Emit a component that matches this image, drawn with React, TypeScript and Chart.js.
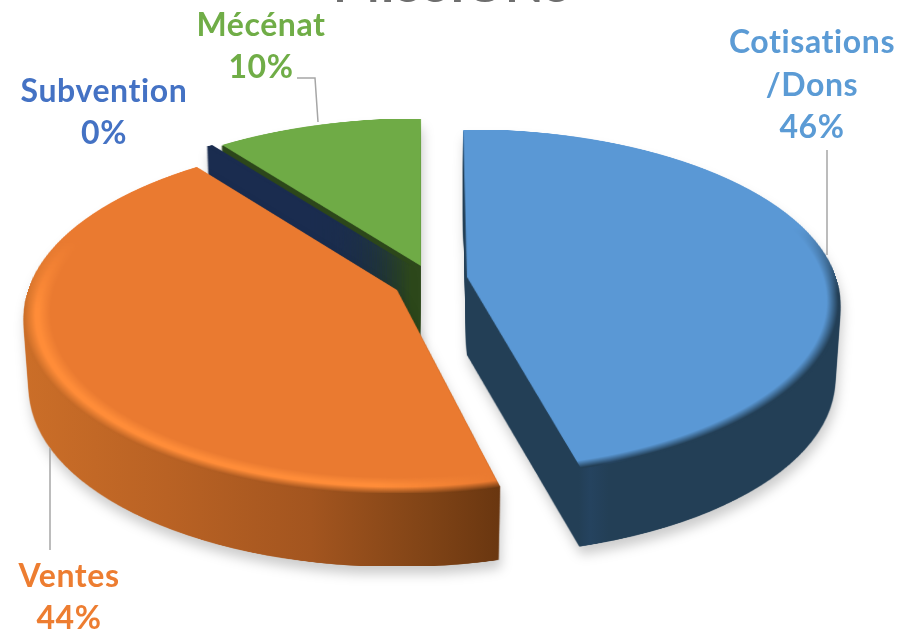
import React, { useEffect, useRef } from "react";
import { Chart, registerables } from "chart.js";

Chart.register(...registerables);

const WIDTH = 901;
const HEIGHT = 629;

const TITLE = "MISSIONS";
const CATEGORIES = ["Cotisations\n/Dons", "Ventes", "Subvention", "Mécénat"];
const VALUES = [46.3, 43.8, 0.3, 10.4];
const PERCENT_LABELS = ["46%", "44%", "0%", "10%"];
const FACE_COLORS = ["#5A98D5", "#EA7A30", "#1A2C4F", "#6FAB46"];
const LABEL_COLORS = ["#5B9BD5", "#ED7D31", "#4472C4", "#70AD47"];
const WALL_STOPS = [
  [[0, "#233F56"], [0.3, "#233F56"], [0.33, "#25435F"], [0.38, "#233F56"], [1, "#233F56"]],
  [[0, "#CB6E28"], [0.3, "#B96224"], [0.6, "#A3551F"], [0.85, "#7F4316"], [1, "#693610"]],
  [[0, "#1A2C4F"], [1, "#1A2C4F"]],
  [[0, "#2D481B"], [1, "#2D481B"]],
];
const WALL_SPANS = [
  [467, 840],
  [24, 502],
  [0, 901],
  [0, 901],
];
// Soft bands near the front edge of a top face, as radius fractions of the pie.
const EDGE_BAND = [[0.965, 0.995], [0.97, 1], null, null];
const HIGHLIGHT_BAND = [null, [0.93, 0.96], null, null];
const HIGHLIGHT_COLOR = "#FF8C38";

// Projection of the pie plane onto the picture (tilted disc in perspective).
const PERSPECTIVE = 0.15;
const PLANE_Y = [170, 173.4, 170, 170];
const PLANE_X = 369;
const WALL_DEPTH = [78, 73, 78, 78];
const WALL_SHRINK = 0.015;
const WALL_NUDGE_X = [0, 0, 0, -1];
const APEXES = [
  [467, 277],
  [397, 290],
  [411, 266],
  [421, 266],
];
const SLICE_TURN_DEG = [-0.7, 0.8, 0, 0];
const DRAW_ORDER = [3, 2, 1, 0];

const LABEL_BOXES = [
  { x: 812, y: 43 },
  { x: 69, y: 577 },
  { x: 104, y: 92 },
  { x: 261, y: 26 },
];
const LEADERS = [
  [[827, 150], [827, 255]],
  [[50, 448], [50, 550]],
  [],
  [[297, 78], [315, 78], [318, 122]],
];

function layer() {
  const c = document.createElement("canvas");
  c.width = WIDTH;
  c.height = HEIGHT;
  return c;
}

function project(src: HTMLCanvasElement, R: number, ax: number, ay: number, planeY: number) {
  const out = layer();
  const o = out.getContext("2d")!;
  const k = PERSPECTIVE;
  const yMin = Math.floor(-planeY / (1 + k)) - 1;
  const yMax = Math.ceil(planeY / (1 - k)) + 1;
  o.imageSmoothingEnabled = true;
  o.imageSmoothingQuality = "high";
  for (let y = yMin; y <= yMax; y++) {
    const v = y / (planeY + k * y);
    const vNext = (y + 1) / (planeY + k * (y + 1));
    const s = PLANE_X / (1 - k * v);
    const sy = (v + 1) * R;
    const sh = Math.max(0.5, (vNext - v) * R);
    if (sy < 0 || sy + sh > 2 * R) continue;
    o.drawImage(src, 0, sy, 2 * R, sh, ax - s, ay + y, 2 * s, 1);
  }
  return out;
}

function tint(src: HTMLCanvasElement, paint: string | CanvasGradient) {
  const out = layer();
  const o = out.getContext("2d")!;
  o.drawImage(src, 0, 0);
  o.globalCompositeOperation = "source-in";
  o.fillStyle = paint;
  o.fillRect(0, 0, WIDTH, HEIGHT);
  return out;
}

// A ring band in the pie plane, painted with `paint`, shown on the front half only.
function band(R: number, from: number, to: number, paint: (c: CanvasRenderingContext2D) => string | CanvasGradient) {
  const c = document.createElement("canvas");
  c.width = c.height = 2 * R;
  const r = c.getContext("2d")!;
  r.fillStyle = paint(r);
  r.fillRect(0, 0, 2 * R, 2 * R);
  r.globalCompositeOperation = "destination-in";
  const radial = r.createRadialGradient(R, R, 0, R, R, R);
  radial.addColorStop(from, "rgba(0,0,0,0)");
  radial.addColorStop(to, "rgba(0,0,0,1)");
  r.fillStyle = radial;
  r.fillRect(0, 0, 2 * R, 2 * R);
  const front = r.createLinearGradient(0, R * 0.7, 0, R * 1.1);
  front.addColorStop(0, "rgba(0,0,0,0)");
  front.addColorStop(1, "rgba(0,0,0,1)");
  r.fillStyle = front;
  r.fillRect(0, 0, 2 * R, 2 * R);
  return c;
}

const piePlugin = {
  id: "tiltedPie",
  beforeDatasetsDraw(chart: any) {
    const meta = chart.getDatasetMeta(0);
    const ctx = chart.ctx as CanvasRenderingContext2D;
    const R = 500;
    DRAW_ORDER.forEach((i) => {
      const arc = meta.data[i];
      const src = document.createElement("canvas");
      src.width = src.height = 2 * R;
      const s = src.getContext("2d")!;
      s.save();
      s.translate(R, R);
      s.scale(R / arc.outerRadius, R / arc.outerRadius);
      s.rotate((SLICE_TURN_DEG[i] * Math.PI) / 180);
      s.translate(-arc.x, -arc.y);
      arc.draw(s);
      s.restore();

      const [ax, ay] = APEXES[i];
      const planeY = PLANE_Y[i];
      const depth = WALL_DEPTH[i];
      const shape = project(src, R, ax, ay, planeY);

      // side wall: the top shape pushed down, narrowing with distance
      const stack = layer();
      const st = stack.getContext("2d")!;
      for (let d = depth; d >= 1; d--) {
        const sc = 1 - (WALL_SHRINK * d) / depth;
        st.drawImage(shape, ax - ax * sc + WALL_NUDGE_X[i], d, WIDTH * sc, HEIGHT);
      }
      const wallGradient = st.createLinearGradient(WALL_SPANS[i][0], 0, WALL_SPANS[i][1], 0);
      WALL_STOPS[i].forEach(([o, c]) => wallGradient.addColorStop(o as number, c as string));
      const wall = tint(stack, wallGradient);

      ctx.save();
      ctx.shadowColor = "rgba(0,0,0,0.2)";
      ctx.shadowBlur = 12;
      ctx.shadowOffsetX = 2;
      ctx.shadowOffsetY = 8;
      ctx.drawImage(wall, 0, 0);
      ctx.restore();

      // top face: soft bands painted in the pie plane
      const toSrcX = (x: number) => ((x - ax) / PLANE_X) * R + R;
      const highlight = HIGHLIGHT_BAND[i];
      if (highlight) {
        const c = band(R, highlight[0], highlight[1], (r) => {
          const g = r.createLinearGradient(toSrcX(380), 0, toSrcX(480), 0);
          g.addColorStop(0, HIGHLIGHT_COLOR);
          g.addColorStop(1, FACE_COLORS[i]);
          return g;
        });
        s.globalCompositeOperation = "source-atop";
        s.drawImage(c, 0, 0);
      }
      const edge = EDGE_BAND[i];
      if (edge) {
        const c = band(R, edge[0], edge[1], (r) => {
          const g = r.createLinearGradient(toSrcX(WALL_SPANS[i][0]), 0, toSrcX(WALL_SPANS[i][1]), 0);
          WALL_STOPS[i].forEach(([o, col]) => g.addColorStop(o as number, col as string));
          return g;
        });
        s.globalCompositeOperation = "source-atop";
        s.drawImage(c, 0, 0);
      }
      const top = project(src, R, ax, ay, planeY);

      ctx.save();
      ctx.filter = "blur(0.6px)";
      ctx.drawImage(top, 0, 0);
      ctx.restore();
    });
    return false;
  },
  afterDraw(chart: any) {
    const ctx = chart.ctx as CanvasRenderingContext2D;
    ctx.save();
    ctx.filter = "blur(0.6px)";
    ctx.textAlign = "center";

    ctx.fillStyle = "#6E6E6E";
    ctx.font = "bold 50px Lato";
    ctx.textBaseline = "alphabetic";
    ctx.fillText(TITLE, 452, 2);
    ctx.textBaseline = "middle";

    ctx.font = "bold 32px Lato";
    (ctx as any).letterSpacing = "0.6px";
    CATEGORIES.forEach((name, i) => {
      const lines = [...name.split("\n"), PERCENT_LABELS[i]];
      const step = i === 0 ? 42.5 : 41.5;
      ctx.fillStyle = LABEL_COLORS[i];
      lines.forEach((line, n) => ctx.fillText(line, LABEL_BOXES[i].x, LABEL_BOXES[i].y + n * step));
    });

    ctx.strokeStyle = "#A6A6A6";
    ctx.lineWidth = 1.5;
    LEADERS.forEach((pts) => {
      if (!pts.length) return;
      ctx.beginPath();
      pts.forEach(([x, y], n) => (n ? ctx.lineTo(x, y) : ctx.moveTo(x, y)));
      ctx.stroke();
    });
    ctx.restore();
  },
};

export default function App() {
  const ref = useRef<HTMLCanvasElement>(null);
  useEffect(() => {
    const chart = new Chart(ref.current!, {
      type: "pie",
      data: {
        labels: CATEGORIES,
        datasets: [{ data: VALUES, backgroundColor: FACE_COLORS, borderWidth: 0 }],
      },
      options: {
        responsive: false,
        animation: false,
        rotation: 0,
        layout: { padding: 0 },
        plugins: { legend: { display: false }, tooltip: { enabled: false }, title: { display: false } },
      },
      plugins: [piePlugin],
    } as any);
    return () => chart.destroy();
  }, []);
  return (
    <div style={{ position: "absolute", left: 0, top: 0, width: WIDTH, height: HEIGHT, background: "#fff", overflow: "hidden" }}>
      <canvas ref={ref} width={WIDTH} height={HEIGHT} style={{ display: "block" }} />
    </div>
  );
}
